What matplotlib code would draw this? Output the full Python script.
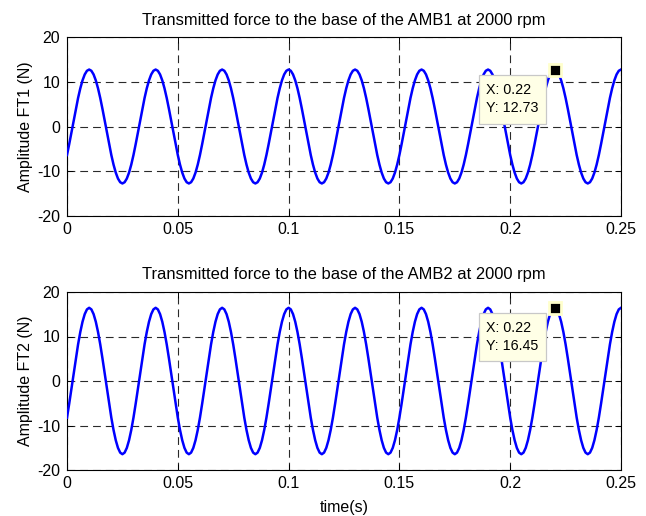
import numpy as np
import matplotlib
matplotlib.use("Agg")
import matplotlib.pyplot as plt
from matplotlib.patches import Rectangle

plt.rcParams['font.family'] = ['Liberation Sans', 'DejaVu Sans']
plt.rcParams['axes.unicode_minus'] = False

# time samples (s), step 0.001
time_s = np.round(np.arange(0, 251) * 0.001, 3)

# Transmitted force at AMB1 (N)
ft1 = [
 -6.37, -3.93, -1.33, 1.33, 3.93, 6.37, 8.52, 10.30, 11.63, 12.45, 12.73, 12.45, 11.63, 10.30, 8.52, 6.37, 3.93, 1.33, -1.33, -3.93, -6.37, -8.52, -10.30, -11.63, -12.45, -12.73, -12.45, -11.63, -10.30, -8.52,
 -6.37, -3.93, -1.33, 1.33, 3.93, 6.37, 8.52, 10.30, 11.63, 12.45, 12.73, 12.45, 11.63, 10.30, 8.52, 6.37, 3.93, 1.33, -1.33, -3.93, -6.37, -8.52, -10.30, -11.63, -12.45, -12.73, -12.45, -11.63, -10.30, -8.52,
 -6.37, -3.93, -1.33, 1.33, 3.93, 6.37, 8.52, 10.30, 11.63, 12.45, 12.73, 12.45, 11.63, 10.30, 8.52, 6.37, 3.93, 1.33, -1.33, -3.93, -6.37, -8.52, -10.30, -11.63, -12.45, -12.73, -12.45, -11.63, -10.30, -8.52,
 -6.37, -3.93, -1.33, 1.33, 3.93, 6.37, 8.52, 10.30, 11.63, 12.45, 12.73, 12.45, 11.63, 10.30, 8.52, 6.37, 3.93, 1.33, -1.33, -3.93, -6.37, -8.52, -10.30, -11.63, -12.45, -12.73, -12.45, -11.63, -10.30, -8.52,
 -6.37, -3.93, -1.33, 1.33, 3.93, 6.37, 8.52, 10.30, 11.63, 12.45, 12.73, 12.45, 11.63, 10.30, 8.52, 6.37, 3.93, 1.33, -1.33, -3.93, -6.37, -8.52, -10.30, -11.63, -12.45, -12.73, -12.45, -11.63, -10.30, -8.52,
 -6.37, -3.93, -1.33, 1.33, 3.93, 6.37, 8.52, 10.30, 11.63, 12.45, 12.73, 12.45, 11.63, 10.30, 8.52, 6.37, 3.93, 1.33, -1.33, -3.93, -6.37, -8.52, -10.30, -11.63, -12.45, -12.73, -12.45, -11.63, -10.30, -8.52,
 -6.37, -3.93, -1.33, 1.33, 3.93, 6.37, 8.52, 10.30, 11.63, 12.45, 12.73, 12.45, 11.63, 10.30, 8.52, 6.37, 3.93, 1.33, -1.33, -3.93, -6.37, -8.52, -10.30, -11.63, -12.45, -12.73, -12.45, -11.63, -10.30, -8.52,
 -6.37, -3.93, -1.33, 1.33, 3.93, 6.37, 8.52, 10.30, 11.63, 12.45, 12.73, 12.45, 11.63, 10.30, 8.52, 6.37, 3.93, 1.33, -1.33, -3.93, -6.37, -8.52, -10.30, -11.63, -12.45, -12.73, -12.45, -11.63, -10.30, -8.52,
 -6.37, -3.93, -1.33, 1.33, 3.93, 6.37, 8.52, 10.30, 11.63, 12.45, 12.73,
]

# Transmitted force at AMB2 (N)
ft2 = [
 -8.23, -5.08, -1.72, 1.72, 5.08, 8.23, 11.01, 13.31, 15.03, 16.09, 16.45, 16.09, 15.03, 13.31, 11.01, 8.23, 5.08, 1.72, -1.72, -5.08, -8.23, -11.01, -13.31, -15.03, -16.09, -16.45, -16.09, -15.03, -13.31, -11.01,
 -8.23, -5.08, -1.72, 1.72, 5.08, 8.23, 11.01, 13.31, 15.03, 16.09, 16.45, 16.09, 15.03, 13.31, 11.01, 8.23, 5.08, 1.72, -1.72, -5.08, -8.23, -11.01, -13.31, -15.03, -16.09, -16.45, -16.09, -15.03, -13.31, -11.01,
 -8.23, -5.08, -1.72, 1.72, 5.08, 8.23, 11.01, 13.31, 15.03, 16.09, 16.45, 16.09, 15.03, 13.31, 11.01, 8.23, 5.08, 1.72, -1.72, -5.08, -8.23, -11.01, -13.31, -15.03, -16.09, -16.45, -16.09, -15.03, -13.31, -11.01,
 -8.23, -5.08, -1.72, 1.72, 5.08, 8.23, 11.01, 13.31, 15.03, 16.09, 16.45, 16.09, 15.03, 13.31, 11.01, 8.23, 5.08, 1.72, -1.72, -5.08, -8.23, -11.01, -13.31, -15.03, -16.09, -16.45, -16.09, -15.03, -13.31, -11.01,
 -8.23, -5.08, -1.72, 1.72, 5.08, 8.23, 11.01, 13.31, 15.03, 16.09, 16.45, 16.09, 15.03, 13.31, 11.01, 8.23, 5.08, 1.72, -1.72, -5.08, -8.23, -11.01, -13.31, -15.03, -16.09, -16.45, -16.09, -15.03, -13.31, -11.01,
 -8.23, -5.08, -1.72, 1.72, 5.08, 8.23, 11.01, 13.31, 15.03, 16.09, 16.45, 16.09, 15.03, 13.31, 11.01, 8.23, 5.08, 1.72, -1.72, -5.08, -8.23, -11.01, -13.31, -15.03, -16.09, -16.45, -16.09, -15.03, -13.31, -11.01,
 -8.23, -5.08, -1.72, 1.72, 5.08, 8.23, 11.01, 13.31, 15.03, 16.09, 16.45, 16.09, 15.03, 13.31, 11.01, 8.23, 5.08, 1.72, -1.72, -5.08, -8.23, -11.01, -13.31, -15.03, -16.09, -16.45, -16.09, -15.03, -13.31, -11.01,
 -8.23, -5.08, -1.72, 1.72, 5.08, 8.23, 11.01, 13.31, 15.03, 16.09, 16.45, 16.09, 15.03, 13.31, 11.01, 8.23, 5.08, 1.72, -1.72, -5.08, -8.23, -11.01, -13.31, -15.03, -16.09, -16.45, -16.09, -15.03, -13.31, -11.01,
 -8.23, -5.08, -1.72, 1.72, 5.08, 8.23, 11.01, 13.31, 15.03, 16.09, 16.45,
]

titles = ["Transmitted force to the base of the AMB1 at 2000 rpm",
          "Transmitted force to the base of the AMB2 at 2000 rpm"]
ylabels = ["Amplitude FT1 (N)", "Amplitude FT2 (N)"]
xticks = [0, 0.05, 0.1, 0.15, 0.2, 0.25]
xticklabels = ["0", "0.05", "0.1", "0.15", "0.2", "0.25"]
yticks = [-20, -10, 0, 10, 20]
tip_x = [0.22, 0.22]
tip_y = [12.73, 16.45]
tip_xlabels = ["X: 0.22", "X: 0.22"]
tip_ylabels = ["Y: 12.73", "Y: 16.45"]

# datatip box layout (data coords): left, right, bottom, top, line1 y, line2 y
box_x0, box_x1, text_x = 0.1859, 0.2162, 0.1893
box_layout = [(0.56, 11.51, 8.2, 4.15), (4.49, 15.28, 11.9, 7.9)]

W, H = 646, 516
fig = plt.figure(figsize=(W / 100, H / 100), dpi=100)
ax1 = fig.add_axes([67 / W, 1 - 216 / H, (621 - 67) / W, (216 - 37) / H])
ax2 = fig.add_axes([67 / W, 1 - 470 / H, (621 - 67) / W, (470 - 292) / H])

for i, (ax, y) in enumerate(zip([ax1, ax2], [ft1, ft2])):
    ax.plot(time_s, y, color='#0000ff', lw=1.8, zorder=3)
    ax.set_xlim(0, 0.25)
    ax.set_ylim(-20, 20)
    ax.set_xticks(xticks)
    ax.set_xticklabels(xticklabels)
    ax.set_yticks(yticks)
    ax.tick_params(direction='in', top=True, right=True, labelsize=11.5,
                   length=4, width=0.7)
    ax.tick_params(axis='x', pad=4)
    ax.tick_params(axis='y', pad=5)
    ax.grid(True, color='#2a2a2a', linestyle=(0, (7, 4.5)), linewidth=0.8)
    for s in ax.spines.values():
        s.set_linewidth(0.8)
    ax.set_title(titles[i], fontsize=11.9, pad=9)
    ax.set_ylabel(ylabels[i], fontsize=11.5, labelpad=3)
    ax.plot([tip_x[i]], [tip_y[i]], marker='s', color='black', markersize=8.5,
            markeredgecolor='#ffffcc', markeredgewidth=2, zorder=5,
            linestyle='none')
    yb, yt, l1, l2 = box_layout[i]
    ax.add_patch(Rectangle((box_x0, yb), box_x1 - box_x0, yt - yb,
                           facecolor='#ffffe6', edgecolor='#c8c8c8',
                           linewidth=0.9, zorder=6))
    ax.text(text_x, l1, tip_xlabels[i], fontsize=10.3, ha='left', va='center',
            zorder=7)
    ax.text(text_x, l2, tip_ylabels[i], fontsize=10.3, ha='left', va='center',
            zorder=7)

ax2.set_xlabel("time(s)", fontsize=11.5, labelpad=7)

fig.savefig("out.png", dpi=100)
